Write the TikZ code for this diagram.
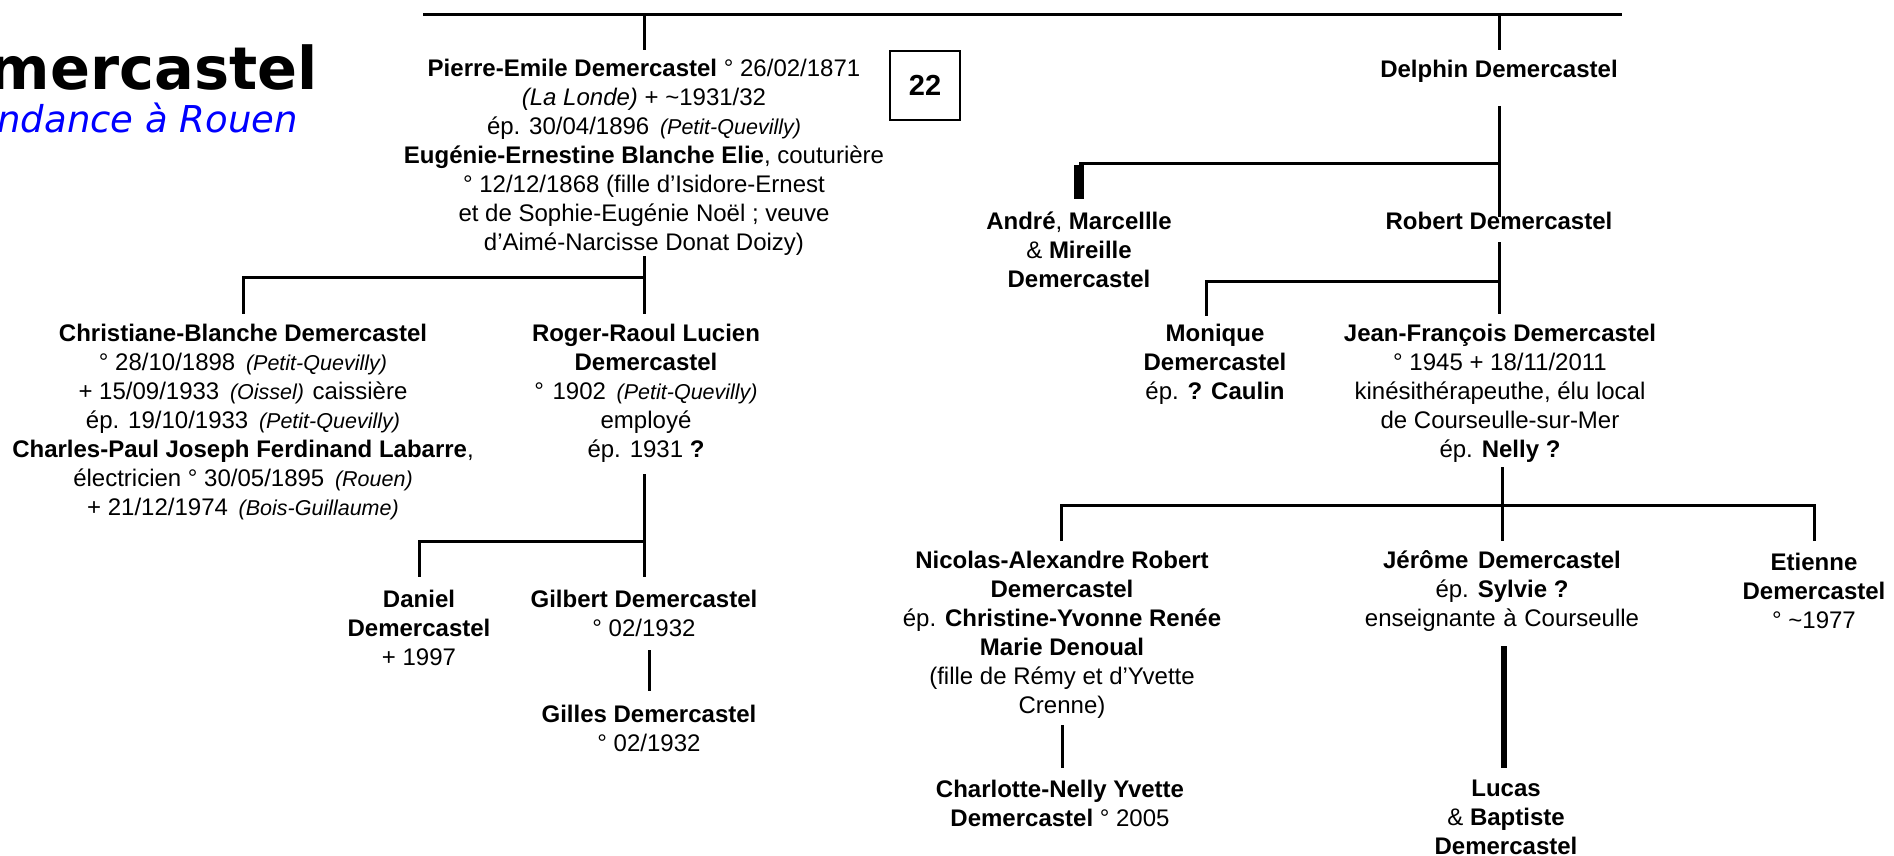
\documentclass[tikz,border=0pt]{standalone}
\usepackage{fontspec}
\setmainfont{Liberation Sans}
\newfontfamily\titlefont{DejaVu Sans}
\newcommand\bodyfnt{\fontsize{24}{29}\selectfont}
\newcommand\sm[1]{\hspace{4pt}{\fontsize{21.5}{29}\selectfont\itshape #1}}
\tikzset{
  person/.style={align=center, inner sep=0pt, font=\bodyfnt},
  link/.style={line width=3pt},
  thicklink/.style={line width=10pt},
  midlink/.style={line width=6pt},
}
\begin{document}
\begin{tikzpicture}[x=1pt,y=-1pt]
\useasboundingbox (0,0) rectangle (1894,856);
\begin{scope}
\clip (0,0) rectangle (1894,856);
\node[anchor=base east, inner sep=0pt, font=\titlefont\bfseries\fontsize{59}{60}\selectfont] (title) at (318,90) {Demercastel};
\node[anchor=base east, inner sep=0pt, text=blue, font=\titlefont\itshape\fontsize{37}{40}\selectfont] (subtitle) at (298,132) {Descendance à Rouen};
\end{scope}

% number box
\node[draw, line width=1.3pt, minimum width=70pt, minimum height=69pt, inner sep=0pt, font=\bfseries\fontsize{29}{30}\selectfont] (num) at (925,85.5) {22};

% persons
\node[person] (pierre) at (644,157.5) {\textbf{Pierre-Emile Demercastel} ° 26/02/1871\\
\textit{(La Londe)} + \textasciitilde 1931/32\\
ép. 30/04/1896 \sm{(Petit-Quevilly)}\\
\textbf{Eugénie-Ernestine Blanche Elie}, couturière\\
° 12/12/1868 (fille d’Isidore-Ernest\\
et de Sophie-Eugénie Noël ; veuve\\
d’Aimé-Narcisse Donat Doizy)};

\node[person] (chris) at (243,422) {\textbf{Christiane-Blanche Demercastel}\\
° 28/10/1898 \sm{(Petit-Quevilly)}\\
+ 15/09/1933 \sm{(Oissel)} \hspace{2pt}caissière\\
ép. 19/10/1933 \sm{(Petit-Quevilly)}\\
\textbf{Charles-Paul Joseph Ferdinand Labarre},\\
électricien ° 30/05/1895 \sm{(Rouen)}\\
+ 21/12/1974 \sm{(Bois-Guillaume)}};

\node[person] (roger) at (646,393) {\textbf{Roger-Raoul Lucien}\\
\textbf{Demercastel}\\
° \hspace{2pt}1902 \sm{(Petit-Quevilly)}\\
employé\\
ép. 1931 \textbf{?}};

\node[person] (daniel) at (419,628) {\textbf{Daniel}\\\textbf{Demercastel}\\+ 1997};
\node[person] (gilbert) at (644,613.5) {\textbf{Gilbert Demercastel}\\° 02/1932};
\node[person] (gilles) at (649,728.5) {\textbf{Gilles Demercastel}\\° 02/1932};

\node[person] (delphin) at (1499,71) {\textbf{Delphin Demercastel}};
\node[person] (andre) at (1079,249.5) {\textbf{André}, \textbf{Marcellle}\\\& \textbf{Mireille}\\\textbf{Demercastel}};
\node[person] (robert) at (1499,221) {\textbf{Robert Demercastel}};
\node[person] (monique) at (1215,364) {\textbf{Monique}\\\textbf{Demercastel}\\ép. \textbf{? Caulin}};
\node[person] (jf) at (1500,393) {\textbf{Jean-François Demercastel}\\
° 1945 + 18/11/2011\\
kinésithérapeuthe, élu local\\
de Courseulle-sur-Mer\\
ép. \textbf{Nelly ?}};

\node[person] (nicolas) at (1062,634.5) {\textbf{Nicolas-Alexandre Robert}\\
\textbf{Demercastel}\\
ép. \textbf{Christine-Yvonne Renée}\\
\textbf{Marie Denoual}\\
(fille de Rémy et d’Yvette\\
Crenne)};
\node[person] (jerome) at (1502,591) {\textbf{Jérôme \hspace{3pt}Demercastel}\\ép. \textbf{Sylvie ?}\\enseignante \hspace{1pt}à \hspace{1pt}Courseulle};
\node[person] (etienne) at (1814,591) {\textbf{Etienne}\\\textbf{Demercastel}\\° \textasciitilde 1977};
\node[person] (charlotte) at (1060,803.5) {\textbf{Charlotte-Nelly Yvette}\\\textbf{Demercastel} ° 2005};
\node[person] (lucas) at (1506,817.5) {\textbf{Lucas}\\\& \textbf{Baptiste}\\\textbf{Demercastel}};

% junction coordinates
\coordinate (topL) at (423,14.5);
\coordinate (topR) at (1622,14.5);
\coordinate (pIn) at (644,50);
\coordinate (dIn) at (1499,50);
\coordinate (pOut) at (644,256);
\coordinate (bar1) at (644,277);
\coordinate (cIn) at (243,314);
\coordinate (rIn) at (644,314);
\coordinate (rOut) at (644,474);
\coordinate (bar2) at (644,541);
\coordinate (daIn) at (419,577);
\coordinate (giIn) at (644,577);
\coordinate (gOut) at (649,650);
\coordinate (glIn) at (649,691);
\coordinate (dOut) at (1499,106);
\coordinate (bar3) at (1499,163);
\coordinate (aIn) at (1079,199);
\coordinate (roIn) at (1499,217);
\coordinate (roOut) at (1499,242);
\coordinate (bar4) at (1499,281);
\coordinate (mIn) at (1206,316);
\coordinate (jfIn) at (1499,314);
\coordinate (jfOut) at (1502,467);
\coordinate (bar5) at (1502,505);
\coordinate (nIn) at (1061,541);
\coordinate (jIn) at (1502,541);
\coordinate (eIn) at (1814,541);
\coordinate (nOut) at (1062,725);
\coordinate (chIn) at (1062,768);
\coordinate (jOut) at (1504,646);
\coordinate (lIn) at (1504,768);

% connectors
\draw[link] (topL) -- (topR);
\draw[link] (pIn |- topL) -- (pIn);
\draw[link] (dIn |- topL) -- (dIn);
\draw[link] (pOut) -- (rIn);
\draw[link] (bar1) -| (cIn);
\draw[link] (rOut) -- (giIn);
\draw[link] (bar2) -| (daIn);
\draw[link] (gOut) -- (glIn);
\draw[link] (dOut) -- (roIn);
\draw[link] (bar3) -- (aIn |- bar3);
\draw[thicklink] ([yshift=-1.5pt]aIn |- bar3) -- (aIn);
\draw[link] (roOut) -- (jfIn);
\draw[link] (bar4) -| (mIn);
\draw[link] (jfOut) -- (jIn);
\draw[link] (nIn) |- (bar5) -| (eIn);
\draw[link] (nOut) -- (chIn);
\draw[midlink] (jOut) -- (lIn);
\end{tikzpicture}
\end{document}
